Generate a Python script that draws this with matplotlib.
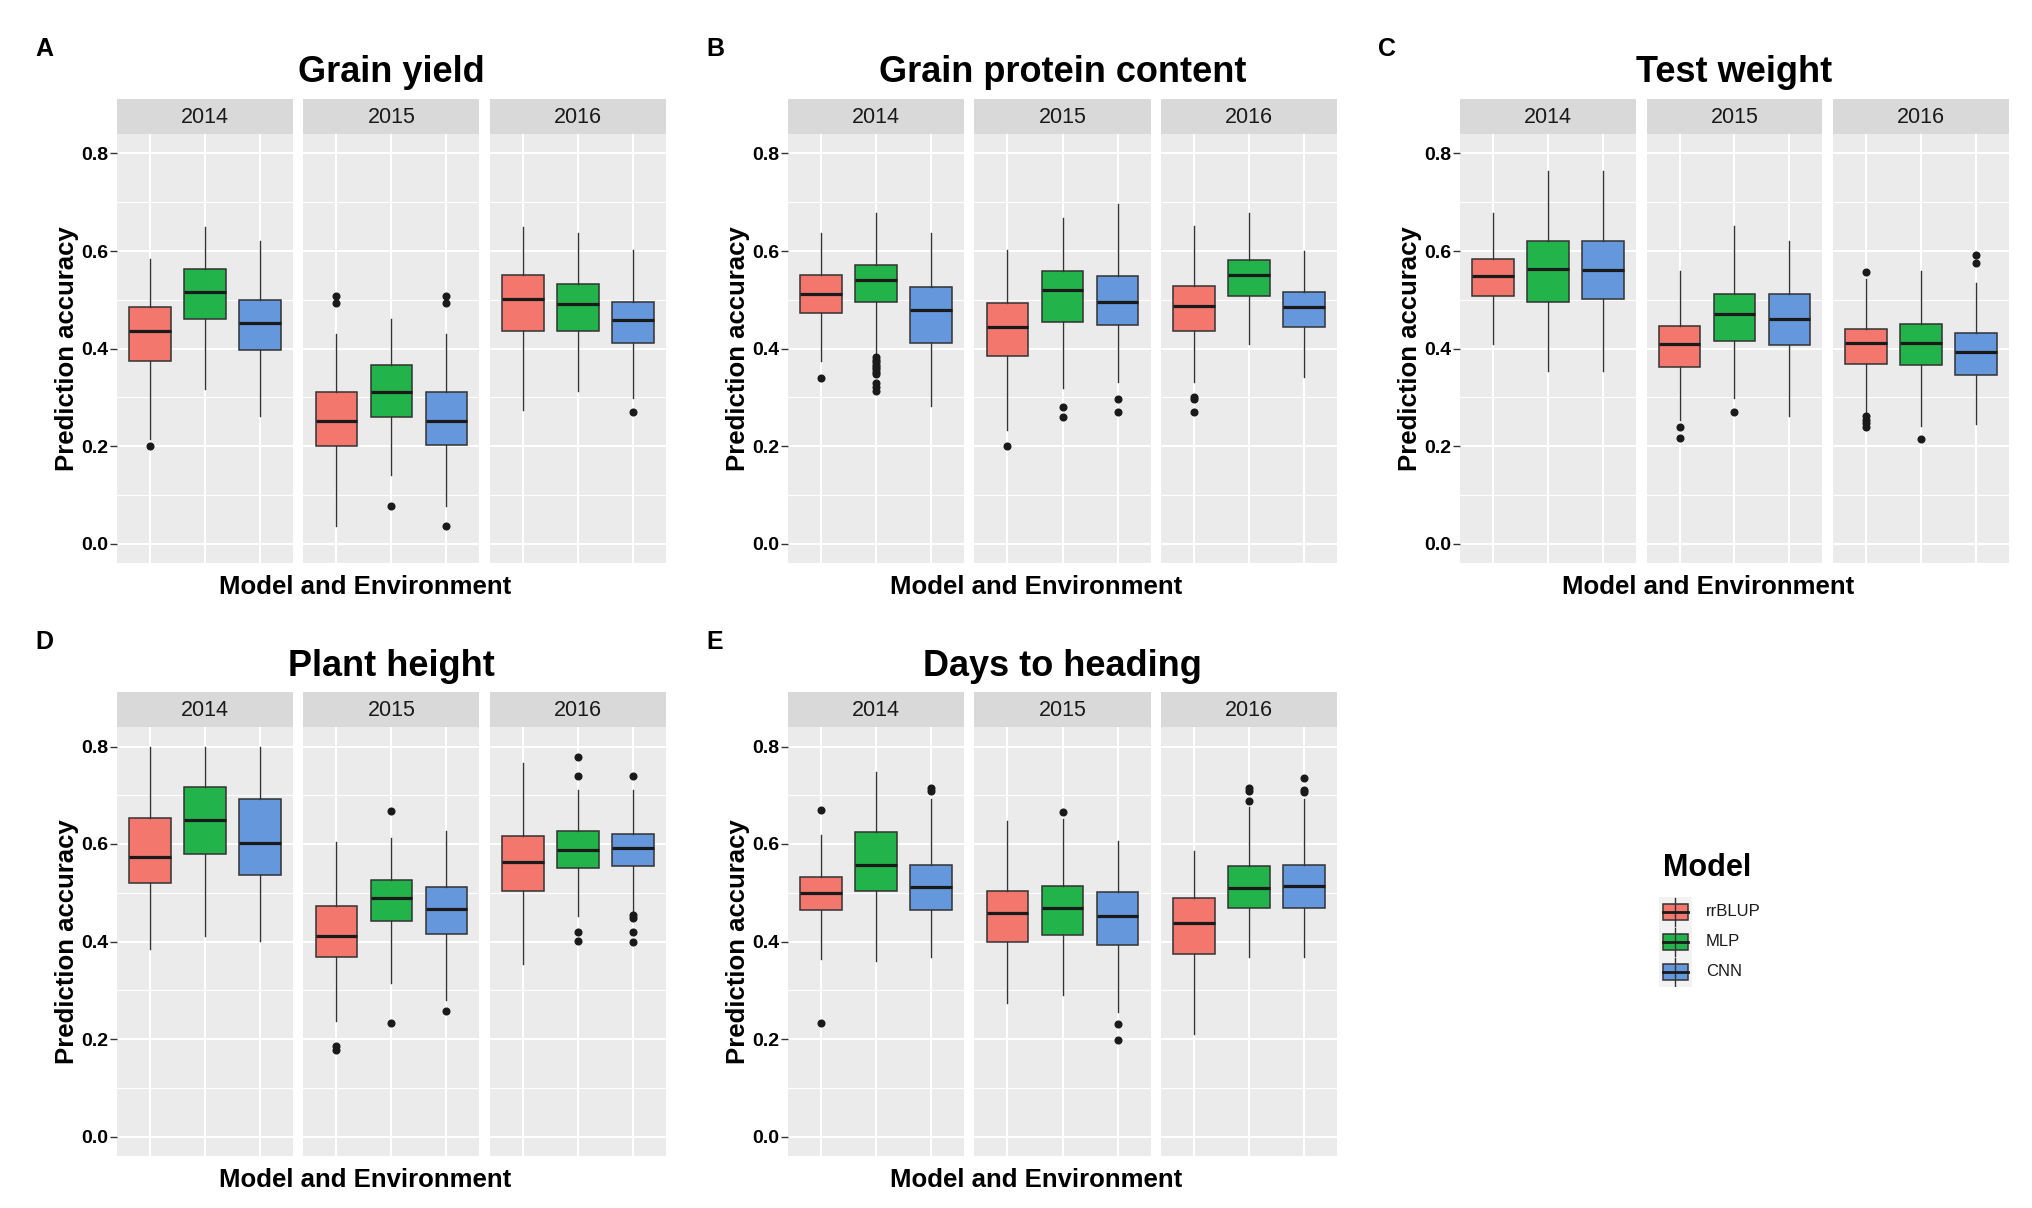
import matplotlib
matplotlib.use("Agg")
import matplotlib.pyplot as plt
from matplotlib.patches import Rectangle

plt.rcParams['font.family'] = ['Liberation Sans', 'DejaVu Sans']

W, H = 2033, 1208

traits = ["Grain yield", "Grain protein content", "Test weight", "Plant height", "Days to heading"]
letters = ["A", "B", "C", "D", "E"]
years = ["2014", "2015", "2016"]
models = ["rrBLUP", "MLP", "CNN"]
colors = ["#F4776E", "#22B34A", "#6597DC"]

# box stats per (year, model): [whisker low, q1, median, q3, whisker high]
grain_yield = [
    [0.215, 0.375, 0.436, 0.486, 0.584], [0.317, 0.461, 0.515, 0.563, 0.649], [0.262, 0.396, 0.452, 0.500, 0.621],
    [0.036, 0.199, 0.252, 0.310, 0.430], [0.140, 0.260, 0.310, 0.366, 0.461], [0.076, 0.203, 0.252, 0.310, 0.430],
    [0.274, 0.436, 0.501, 0.551, 0.649], [0.312, 0.436, 0.492, 0.533, 0.636], [0.299, 0.412, 0.458, 0.496, 0.603],
]
grain_yield_out = [[0.199], [], [], [0.493, 0.508], [0.076], [0.035, 0.493, 0.508], [], [], [0.269]]

protein = [
    [0.374, 0.472, 0.512, 0.551, 0.636], [0.386, 0.496, 0.540, 0.571, 0.677], [0.283, 0.412, 0.479, 0.527, 0.636],
    [0.233, 0.385, 0.444, 0.494, 0.603], [0.319, 0.455, 0.521, 0.559, 0.668], [0.331, 0.449, 0.495, 0.548, 0.696],
    [0.331, 0.436, 0.488, 0.529, 0.651], [0.410, 0.508, 0.551, 0.582, 0.677], [0.342, 0.445, 0.485, 0.516, 0.601],
]
protein_out = [[0.340],
               [0.382, 0.377, 0.372, 0.367, 0.362, 0.357, 0.352, 0.347, 0.329, 0.321, 0.313],
               [], [0.199], [0.279, 0.259], [0.297, 0.269], [0.300, 0.296, 0.269], [], []]

test_weight = [
    [0.410, 0.508, 0.548, 0.584, 0.677], [0.353, 0.496, 0.564, 0.620, 0.764], [0.353, 0.502, 0.562, 0.620, 0.764],
    [0.253, 0.363, 0.409, 0.446, 0.558], [0.299, 0.415, 0.471, 0.511, 0.651], [0.262, 0.407, 0.460, 0.511, 0.620],
    [0.269, 0.369, 0.412, 0.440, 0.543], [0.242, 0.366, 0.412, 0.451, 0.558], [0.245, 0.345, 0.393, 0.432, 0.535],
]
test_weight_out = [[], [], [], [0.240, 0.216], [0.269], [],
                   [0.557, 0.262, 0.253, 0.247, 0.238], [0.214], [0.592, 0.575]]

plant_height = [
    [0.384, 0.521, 0.573, 0.654, 0.800], [0.411, 0.580, 0.649, 0.716, 0.800], [0.401, 0.537, 0.603, 0.692, 0.800],
    [0.236, 0.368, 0.411, 0.472, 0.605], [0.315, 0.442, 0.489, 0.526, 0.613], [0.281, 0.416, 0.466, 0.512, 0.627],
    [0.353, 0.504, 0.563, 0.616, 0.766], [0.452, 0.550, 0.587, 0.626, 0.711], [0.459, 0.555, 0.591, 0.621, 0.711],
]
plant_height_out = [[], [], [], [0.186, 0.178], [0.667, 0.233], [0.258],
                    [], [0.778, 0.740, 0.420, 0.401], [0.740, 0.454, 0.449, 0.420, 0.398]]

heading = [
    [0.365, 0.465, 0.500, 0.533, 0.619], [0.359, 0.503, 0.556, 0.625, 0.748], [0.368, 0.465, 0.511, 0.557, 0.692],
    [0.273, 0.398, 0.458, 0.503, 0.648], [0.291, 0.414, 0.469, 0.513, 0.651], [0.256, 0.392, 0.453, 0.501, 0.606],
    [0.210, 0.374, 0.438, 0.489, 0.585], [0.368, 0.468, 0.510, 0.555, 0.676], [0.368, 0.468, 0.513, 0.557, 0.692],
]
heading_out = [[0.669, 0.233], [], [0.714, 0.709], [], [0.666], [0.231, 0.197],
               [], [0.714, 0.709, 0.689], [0.735, 0.711, 0.706]]

all_stats = [grain_yield, protein, test_weight, plant_height, heading]
all_out = [grain_yield_out, protein_out, test_weight_out, plant_height_out, heading_out]

# layout in pixels
col_left = [117, 788, 1460]
facet_off = [0, 186.5, 373]
facet_w = 176
rows = [(99, 134, 563), (692, 727, 1156)]  # strip top, plot top, plot bottom
panel_pos = [(0, 0), (0, 1), (0, 2), (1, 0), (1, 1)]

fig = plt.figure(figsize=(W / 100, H / 100), dpi=100)


def px_axes(left, top, w, h):
    return fig.add_axes([left / W, 1 - (top + h) / H, w / W, h / H])


def fx(x):
    return x / W


def fy(y):
    return 1 - y / H


for p in range(5):
    r, c = panel_pos[p]
    st, pt, pb = rows[r]
    x0 = col_left[c]
    for yi, year in enumerate(years):
        left = x0 + facet_off[yi]
        ax = px_axes(left, pt, facet_w, pb - pt)
        ax.set_facecolor("#EBEBEB")
        stats = []
        for m in range(3):
            s = all_stats[p][yi * 3 + m]
            stats.append(dict(whislo=s[0], q1=s[1], med=s[2], q3=s[3], whishi=s[4],
                              fliers=all_out[p][yi * 3 + m]))
        bp = ax.bxp(stats, positions=[1, 2, 3], widths=0.75, patch_artist=True, showcaps=False,
                    boxprops=dict(edgecolor="#333333", linewidth=1.1),
                    whiskerprops=dict(color="#333333", linewidth=1.0),
                    medianprops=dict(color="#1A1A1A", linewidth=2.3),
                    flierprops=dict(marker="o", markerfacecolor="#1A1A1A", markeredgecolor="#1A1A1A",
                                    markersize=4.8, linestyle="none"))
        for patch, col in zip(bp["boxes"], colors):
            patch.set_facecolor(col)
        ax.set_xlim(0.4, 3.6)
        ax.set_ylim(-0.04, 0.84)
        ax.set_yticks([0.0, 0.2, 0.4, 0.6, 0.8])
        ax.set_yticks([0.1, 0.3, 0.5, 0.7], minor=True)
        ax.set_xticks([1, 2, 3])
        ax.set_xticklabels([])
        ax.tick_params(axis="x", length=0)
        ax.grid(which="major", color="white", linewidth=1.5)
        ax.grid(which="minor", axis="y", color="white", linewidth=0.8)
        ax.set_axisbelow(True)
        for sp in ax.spines.values():
            sp.set_visible(False)
        ax.tick_params(axis="y", which="minor", length=0)
        if yi == 0:
            ax.set_yticklabels(["0.0", "0.2", "0.4", "0.6", "0.8"])
            ax.tick_params(axis="y", which="major", length=5, width=1, color="#333333", pad=1,
                           labelsize=14, labelcolor="black")
            for t in ax.get_yticklabels():
                t.set_fontweight("bold")
        else:
            ax.tick_params(axis="y", which="major", length=0, labelleft=False)

        # facet strip
        sax = px_axes(left, st, facet_w, pt - st)
        sax.set_facecolor("#D9D9D9")
        sax.set_xticks([])
        sax.set_yticks([])
        for sp in sax.spines.values():
            sp.set_visible(False)
        sax.text(0.5, 0.47, year, ha="center", va="center", fontsize=15.5, color="#1A1A1A",
                 transform=sax.transAxes)

    # titles and labels
    cx = x0 + (facet_off[2] + facet_w) / 2
    fig.text(fx(cx), fy(st - 26), traits[p], ha="center", va="center", fontsize=26, fontweight="bold")
    fig.text(fx(x0 - 73), fy(st - 50), letters[p], ha="center", va="center", fontsize=18, fontweight="bold")
    fig.text(fx(cx - 26), fy(pb + 24), "Model and Environment", ha="center", va="center",
             fontsize=18.5, fontweight="bold")
    fig.text(fx(x0 - 50), fy((pt + pb) / 2), "Prediction accuracy", ha="center", va="center",
             rotation=90, fontsize=18.5, fontweight="bold")

# legend
fig.text(fx(1707), fy(868), "Model", ha="center", va="center", fontsize=22, fontweight="bold")
lax = px_axes(1659, 897, 33, 90)
lax.set_xlim(0, 33)
lax.set_ylim(90, 0)
lax.set_facecolor("#F2F2F2")
lax.set_xticks([])
lax.set_yticks([])
for sp in lax.spines.values():
    sp.set_visible(False)
for i, (name, col) in enumerate(zip(models, colors)):
    cy = 15 + 30 * i
    lax.plot([16.5, 16.5], [cy - 14, cy + 14], color="#333333", linewidth=1.0)
    lax.add_patch(Rectangle((4, cy - 8), 25, 16, facecolor=col, edgecolor="#333333", linewidth=1.1))
    lax.plot([4, 29], [cy, cy], color="#1A1A1A", linewidth=2.0)
    fig.text(fx(1706), fy(912 + 30 * i), name, ha="left", va="center", fontsize=12, color="#1A1A1A")

fig.savefig("out.png", dpi=100)
